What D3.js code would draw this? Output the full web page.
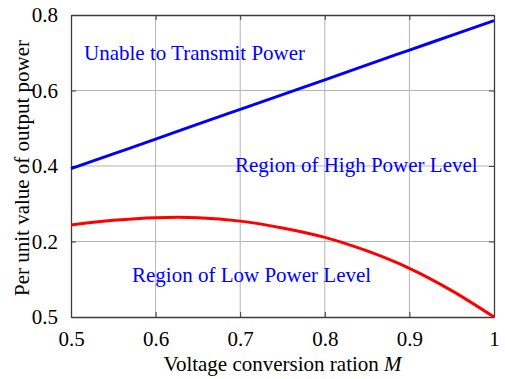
<!DOCTYPE html>
<html>
<head>
<meta charset="utf-8">
<script src="https://cdn.jsdelivr.net/npm/d3@7"></script>
<style>
  body { margin: 0; background: #fff; }
  svg text { font-family: "Liberation Serif", "Times New Roman", serif; }
</style>
</head>
<body>
<svg id="chart" width="505" height="379"></svg>
<script>
// values
const mValues = [0.5, 0.55, 0.6, 0.65, 0.7, 0.75, 0.8, 0.85, 0.9, 0.95, 1.0];
const upperBound = [0.393, 0.432, 0.471, 0.511, 0.550, 0.589, 0.628, 0.668, 0.707, 0.746, 0.785];
const lowerBound = [0.244, 0.256, 0.263, 0.263, 0.254, 0.236, 0.211, 0.175, 0.129, 0.070, 0.0];
const xTicks = [0.5, 0.6, 0.7, 0.8, 0.9, 1.0];
const xTickLabels = ["0.5", "0.6", "0.7", "0.8", "0.9", "1"];
const yTicks = [0, 0.2, 0.4, 0.6, 0.8];
const yTickLabels = ["0.5", "0.2", "0.4", "0.6", "0.8"];   // the original really says 0.5 at the bottom
const regionLabels = ["Unable to Transmit Power", "Region of High Power Level", "Region of Low Power Level"];

const svg = d3.select("#chart");
const pLeft = 71, pRight = 494, pTop = 15, pBottom = 317;

const x = d3.scaleLinear().domain([0.5, 1]).range([pLeft, pRight]);
const y = d3.scaleLinear().domain([0, 0.8]).range([pBottom, pTop]);

// grid
const grid = svg.append("g");
grid.selectAll(".gx").data(xTicks.slice(1, -1)).enter().append("line")
  .attr("x1", d => x(d)).attr("x2", d => x(d))
  .attr("y1", pTop).attr("y2", pBottom)
  .attr("stroke", "#b4b4b4").attr("stroke-width", 1);
grid.selectAll(".gy").data(yTicks.slice(1, -1)).enter().append("line")
  .attr("y1", d => y(d)).attr("y2", d => y(d))
  .attr("x1", pLeft).attr("x2", pRight)
  .attr("stroke", "#b4b4b4").attr("stroke-width", 1);

// axes, ticks inside like matlab
const fmtX = (d, i) => xTickLabels[i];
const fmtY = (d, i) => yTickLabels[i];
const xAxis = svg.append("g").attr("transform", `translate(0,${pBottom})`)
  .call(d3.axisBottom(x).tickValues(xTicks).tickFormat(fmtX).tickSizeInner(-5).tickSizeOuter(0).tickPadding(14));
const xAxisTop = svg.append("g").attr("transform", `translate(0,${pTop})`)
  .call(d3.axisTop(x).tickValues(xTicks).tickFormat("").tickSizeInner(-5).tickSizeOuter(0));
const yAxis = svg.append("g").attr("transform", `translate(${pLeft},0)`)
  .call(d3.axisLeft(y).tickValues(yTicks).tickFormat(fmtY).tickSizeInner(-5).tickSizeOuter(0).tickPadding(13));
const yAxisRight = svg.append("g").attr("transform", `translate(${pRight},0)`)
  .call(d3.axisRight(y).tickValues(yTicks).tickFormat("").tickSizeInner(-5).tickSizeOuter(0));

[xAxis, xAxisTop, yAxis, yAxisRight].forEach(a => {
  a.select(".domain").attr("stroke", "#3c3c3c").attr("stroke-width", 1.3);
  a.selectAll(".tick line").attr("stroke", "#3c3c3c");
  a.selectAll("text").attr("fill", "#000").style("font-size", "21px")
    .style("font-family", "'Liberation Serif', 'Times New Roman', serif");
});

// curves
const line = d3.line().x((d, i) => x(mValues[i])).y(d => y(d)).curve(d3.curveCatmullRom);
svg.append("path").datum(lowerBound).attr("d", line)
  .attr("fill", "none").attr("stroke", "#ff0000").attr("stroke-width", 3);
svg.append("path").datum(upperBound).attr("d", line)
  .attr("fill", "none").attr("stroke", "#0000ff").attr("stroke-width", 3);

// region text
const labelPos = [[84, 60], [235, 172], [132, 282]];
svg.selectAll(".region").data(regionLabels).enter().append("text")
  .attr("x", (d, i) => labelPos[i][0]).attr("y", (d, i) => labelPos[i][1])
  .attr("fill", "#0000ff").style("font-size", "21px")
  .text(d => d);

// axis titles
const xt = svg.append("text").attr("x", (pLeft + pRight) / 2).attr("y", 371)
  .attr("text-anchor", "middle").style("font-size", "21px");
xt.append("tspan").text("Voltage conversion ration ");
xt.append("tspan").style("font-style", "italic").text("M");

svg.append("text").attr("transform", `translate(29,${(pTop + pBottom) / 2 + 2}) rotate(-90)`)
  .attr("text-anchor", "middle").style("font-size", "21px")
  .text("Per unit value of output power");
</script>
</body>
</html>
